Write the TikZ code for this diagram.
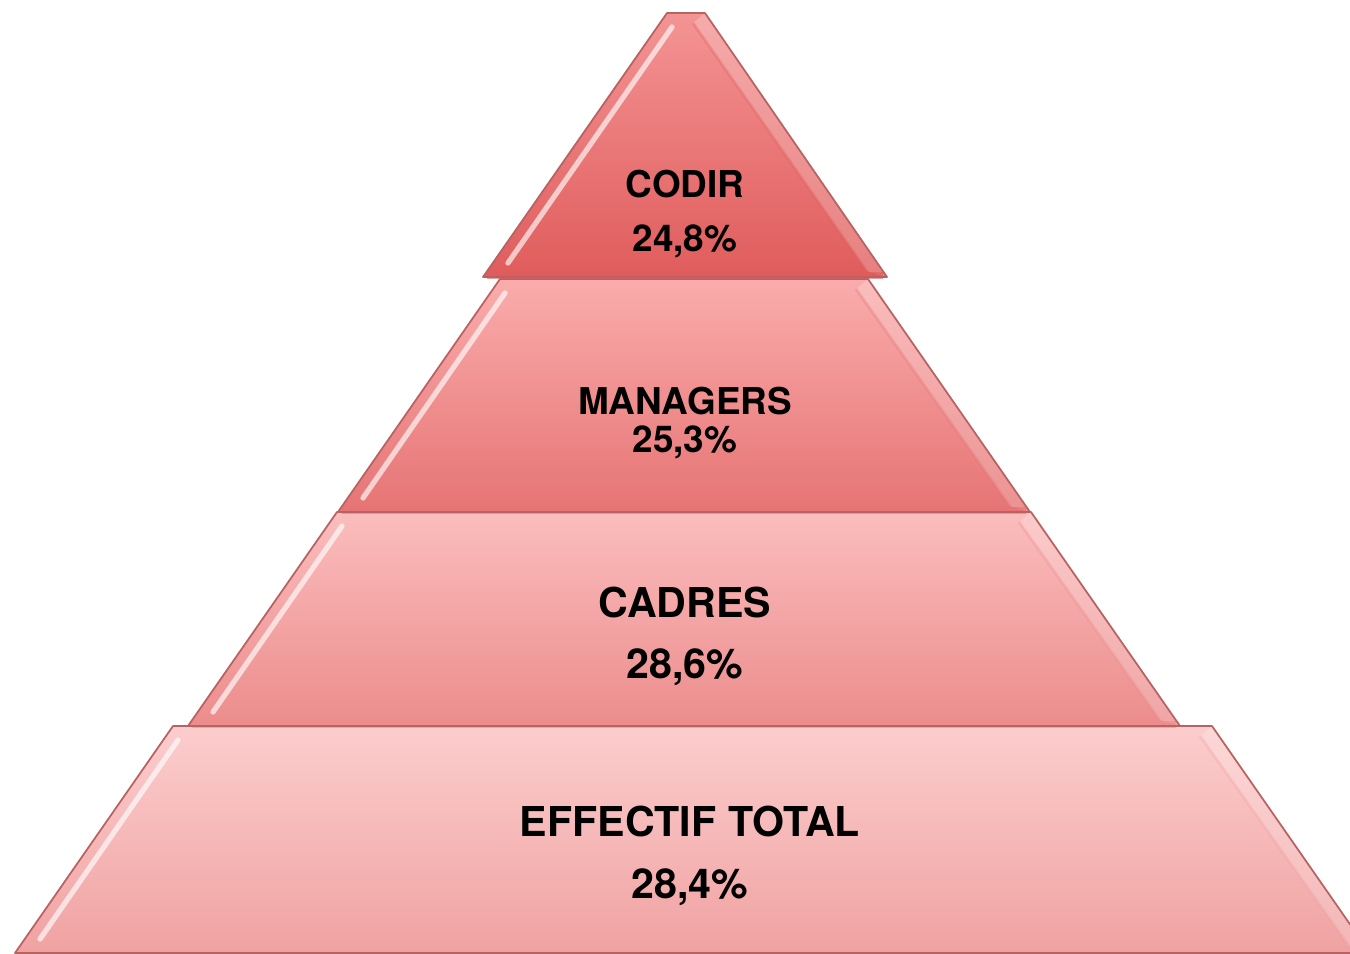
\documentclass[tikz,border=0pt]{standalone}
\usepackage{fontspec}
\setmainfont{TeX Gyre Heros}
\usepackage{tikz}
\usetikzlibrary{calc}
\usepackage{xcolor}

\definecolor{codirtop}{HTML}{F49494}
\definecolor{codirbot}{HTML}{E05C5C}
\definecolor{mgrtop}{HTML}{FAACAC}
\definecolor{mgrbot}{HTML}{E67474}
\definecolor{cadtop}{HTML}{FBBDBD}
\definecolor{cadbot}{HTML}{EC8C8C}
\definecolor{efftop}{HTML}{FCCDCD}
\definecolor{effbot}{HTML}{F0A2A2}
\definecolor{tieredge}{HTML}{B86262}

\begin{document}
\begin{tikzpicture}[x=0.01cm,y=-0.01cm,
    tier/.style={draw=tieredge, line width=0.5pt, line join=round},
    shine/.style={white, opacity=0.65, line width=1.5pt, line cap=round},
    sideband/.style={fill=white, opacity=0.22},
    lbl/.style={align=center, inner sep=0pt}]
  \useasboundingbox (0,0) rectangle (1350,953);
  \begin{scope}
    \clip (0,0) rectangle (1350,953);
    % tiers: name / top y / bottom y / top left / bottom left / top right / bottom right / colours
    \foreach \yt/\yb/\lt/\lb/\rt/\rb/\ct/\cb in {
        726/953/173/15/1212/1370/efftop/effbot,
        512/726/337/188/1031/1180/cadtop/cadbot,
        279/512/500/338/868/1030/mgrtop/mgrbot,
        13/277/667/483/705/887/codirtop/codirbot}{
      \shade[top color=\ct, bottom color=\cb]
        (\lt,\yt) -- (\rt,\yt) -- (\rb,\yb) -- (\lb,\yb) -- cycle;
      % bevel on the right side
      \fill[sideband] (\rt,\yt) -- (\rb,\yb) -- (\rb-20,\yb-6) -- (\rt-12,\yt+10) -- cycle;
      \draw[\cb, opacity=0.35, line width=0.8pt] (\rt-12,\yt+10) -- (\rb-20,\yb-6);
      % darker strip along the base
      \draw[\cb, opacity=0.6, line width=2pt] (\lb+4,\yb-2) -- (\rb-4,\yb-2);
      % highlight on the left side
      \draw[shine] (\lt+5,\yt+14) -- (\lb+25,\yb-14);
      \draw[tier] (\lt,\yt) -- (\rt,\yt) -- (\rb,\yb) -- (\lb,\yb) -- cycle;
    }
  \end{scope}
  % labels
  \node[lbl, font=\bfseries\fontsize{10.5}{15.4}\selectfont] (codir) at (685,214) {CODIR\\24,8\%};
  \node[lbl, font=\bfseries\fontsize{10.5}{10.6}\selectfont] (managers) at (685,423) {MANAGERS\\25,3\%};
  \node[lbl, font=\bfseries\fontsize{11.7}{17.4}\selectfont] (cadres) at (685,636) {CADRES\\28,6\%};
  \node[lbl, font=\bfseries\fontsize{11.7}{17.6}\selectfont] (effectif) at (690,856) {EFFECTIF TOTAL\\28,4\%};
\end{tikzpicture}
\end{document}
